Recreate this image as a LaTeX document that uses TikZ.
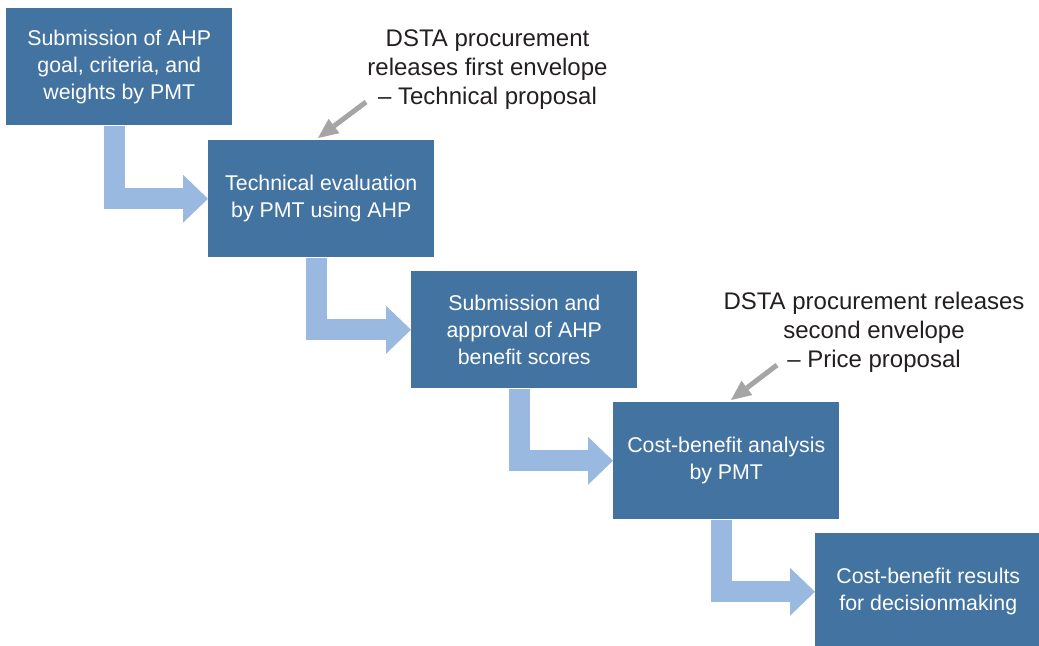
\documentclass[tikz,border=0pt]{standalone}
\usepackage{fontspec}
\setmainfont{Liberation Sans}
\usetikzlibrary{arrows.meta}
\usetikzlibrary{calc}

\definecolor{boxblue}{HTML}{4373A1}
\definecolor{flowblue}{HTML}{9AB9E1}
\definecolor{notegray}{HTML}{A5A5A5}
\definecolor{notetext}{HTML}{231F20}

\tikzset{
	stepbox/.style={fill=boxblue, text=white, anchor=north west,
		minimum width=169.5pt, minimum height=87.75pt, inner sep=0pt,
		align=center, font=\fontsize{16}{20.25}\selectfont},
	flow/.style={draw=flowblue, line width=15.75pt, line join=miter,
		-{Triangle[width=36pt,length=18.75pt,line width=0pt]}},
	notetxt/.style={text=notetext, align=center, font=\fontsize{18}{21.75}\selectfont},
	notearrow/.style={draw=notegray, line width=3.75pt,
		-{Triangle[width=13.5pt,length=15pt,line width=0pt]}},
}

\begin{document}
\begin{tikzpicture}[x=0.75pt,y=-0.75pt]
				\useasboundingbox (0,0) rectangle (1039,646);
				\clip (0,0) rectangle (1039,646);

				% the five steps
				\node[stepbox] (b1) at (6,8) {Submission of AHP\\goal, criteria, and\\weights by PMT};
				\node[stepbox] (b2) at (208,140) {Technical evaluation\\by PMT using AHP};
				\node[stepbox] (b3) at (411,271) {Submission and\\approval of AHP\\benefit scores};
				\node[stepbox] (b4) at (613,402) {Cost-benefit analysis\\by PMT};
				\node[stepbox] (b5) at (815,533) {Cost-benefit results\\for decisionmaking};

				% flow between steps
				\draw[flow] ($(b1.south west)+(108.5,0)$) |- (b2.west);
				\draw[flow] ($(b2.south west)+(108.5,0)$) |- (b3.west);
				\draw[flow] ($(b3.south west)+(108.5,0)$) |- (b4.west);
				\draw[flow] ($(b4.south west)+(108.5,0)$) |- (b5.west);

				% envelopes
				\node[notetxt] (n1) at (487.5,70) {DSTA procurement\\releases first envelope\\– Technical proposal};
				\coordinate (n1tail) at (366,102);
				\draw[notearrow] (n1tail) -- ($(b2.north west)+(110,-2)$);

				\node[notetxt] (n2) at (874,332) {DSTA procurement releases\\second envelope\\– Price proposal};
				\coordinate (n2tail) at (777,365);
				\draw[notearrow] (n2tail) -- ($(b4.north west)+(118,-2)$);
\end{tikzpicture}
\end{document}
